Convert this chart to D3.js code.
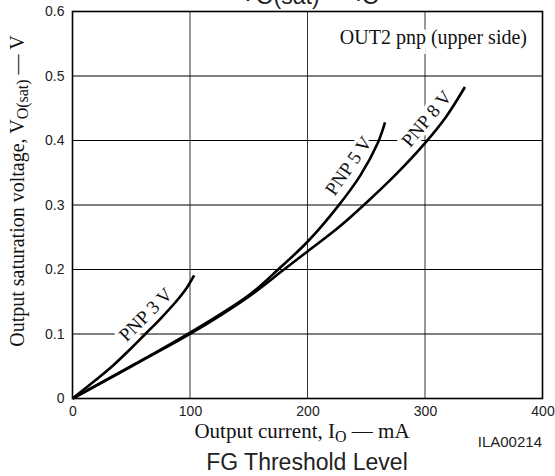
<!DOCTYPE html>
<html><head><meta charset="utf-8">
<script src="https://cdn.jsdelivr.net/npm/d3@7"></script>
<style>body{margin:0;background:#fff}svg{display:block}</style>
</head><body>
<svg id="c" width="555" height="476"></svg>
<script>
const xTicks = [0, 100, 200, 300, 400];
const yTicks = [0, 0.1, 0.2, 0.3, 0.4, 0.5, 0.6];
const yTickLabels = ["0", "0.1", "0.2", "0.3", "0.4", "0.5", "0.6"];
const pnp3I = [0, 20, 35, 50, 62, 75, 88, 97, 103.5];
const pnp3V = [0, 0.029, 0.052, 0.078, 0.1, 0.124, 0.15, 0.171, 0.191];
const pnp5I = [0, 50, 100, 150, 175, 200, 225, 245, 260, 266];
const pnp5V = [0, 0.05, 0.102, 0.16, 0.2, 0.243, 0.296, 0.346, 0.397, 0.428];
const pnp8I = [0, 50, 100, 150, 180, 200, 225, 248, 275, 300, 318, 334];
const pnp8V = [0, 0.05, 0.1, 0.158, 0.2, 0.228, 0.263, 0.3, 0.347, 0.396, 0.437, 0.483];

const svg = d3.select("#c");
const L = 72.5, R = 542.5, T = 11.5, B = 398.5;
const x = d3.scaleLinear().domain([0, 400]).range([L, R]);
const y = d3.scaleLinear().domain([0, 0.6]).range([B, T]);

// gridlines
svg.append("g").selectAll("line").data(xTicks.slice(1, -1)).join("line")
  .attr("x1", d => x(d)).attr("x2", d => x(d)).attr("y1", T).attr("y2", B)
  .attr("stroke", "#333").attr("stroke-width", 1);
svg.append("g").selectAll("line").data(yTicks.slice(1, -1)).join("line")
  .attr("x1", L).attr("x2", R).attr("y1", d => y(d)).attr("y2", d => y(d))
  .attr("stroke", "#000").attr("stroke-width", 1);

// axes (labels only)
const ax = svg.append("g").attr("transform", `translate(0,${B})`)
  .call(d3.axisBottom(x).tickValues(xTicks).tickSize(0).tickPadding(8).tickFormat(d3.format("d")));
ax.select(".domain").remove();
ax.selectAll("text").attr("font-family", "Liberation Sans, Arial, sans-serif").attr("font-size", 14).attr("fill", "#222");
const ay = svg.append("g").attr("transform", `translate(${L},0)`)
  .call(d3.axisLeft(y).tickValues(yTicks).tickSize(0).tickPadding(8).tickFormat((d, i) => yTickLabels[i]));
ay.select(".domain").remove();
ay.selectAll("text").attr("font-family", "Liberation Sans, Arial, sans-serif").attr("font-size", 14).attr("fill", "#222");

// curves
const line = d3.line().x(d => x(d[0])).y(d => y(d[1])).curve(d3.curveCatmullRom.alpha(0.5));
[[pnp3I, pnp3V], [pnp5I, pnp5V], [pnp8I, pnp8V]].forEach(([I, V]) => {
  svg.append("path").datum(I.map((v, i) => [v, V[i]])).attr("d", line)
    .attr("fill", "none").attr("stroke", "#000").attr("stroke-width", 2.6);
});

// labels with white halo
function lab(t, cx, cy, rot, size) {
  svg.append("text").attr("transform", `translate(${cx},${cy}) rotate(${rot})`)
    .attr("text-anchor", "middle").attr("dominant-baseline", "middle")
    .attr("font-family", "Liberation Serif, Times New Roman, serif").attr("font-size", size)
    .attr("fill", "#111").attr("stroke", "#fff").attr("stroke-width", 7).attr("stroke-linejoin", "round")
    .style("paint-order", "stroke").text(t);
}
lab("PNP 3 V", 147, 316, -45, 19);
lab("PNP 5 V", 350, 167, -55, 19);
lab("PNP 8 V", 428, 120, -50, 19);
// OUT2 label
svg.append("text").attr("x", 527).attr("y", 44).attr("text-anchor", "end")
  .attr("font-family", "Liberation Serif, Times New Roman, serif").attr("font-size", 20).attr("fill", "#111")
  .attr("stroke", "#fff").attr("stroke-width", 10).style("paint-order", "stroke")
  .text("OUT2 pnp (upper side)");

// frame
svg.append("rect").attr("x", L).attr("y", T).attr("width", R - L).attr("height", B - T)
  .attr("fill", "none").attr("stroke", "#000").attr("stroke-width", 1.6);

// axis titles
const xt = svg.append("text").attr("x", 302).attr("y", 438).attr("text-anchor", "middle")
  .attr("font-family", "Liberation Serif, Times New Roman, serif").attr("font-size", 21).attr("fill", "#111");
xt.append("tspan").text("Output current, I");
xt.append("tspan").attr("font-size", 16).attr("dy", 4).text("O");
xt.append("tspan").attr("dy", -4).text(" \u2014 mA");

const yt = svg.append("text").attr("transform", `translate(24,${191}) rotate(-90)`).attr("text-anchor", "middle")
  .attr("font-family", "Liberation Serif, Times New Roman, serif").attr("font-size", 20).attr("fill", "#111");
yt.append("tspan").text("Output saturation voltage, V");
yt.append("tspan").attr("font-size", 16).attr("dy", 4).text("O(sat)");
yt.append("tspan").attr("dy", -4).text(" \u2014 V");

// title (cut off at top, as in the reference)
const tt = svg.append("text").attr("x", 310).attr("y", 1).attr("text-anchor", "middle")
  .attr("font-family", "Liberation Sans, Arial, sans-serif").attr("font-size", 23).attr("fill", "#222");
tt.append("tspan").text("V");
tt.append("tspan").attr("dy", 3).text("O(sat)");
tt.append("tspan").attr("dy", -3).text(" \u2014 I");
tt.append("tspan").attr("dy", 3).text("O");

svg.append("text").attr("x", 542).attr("y", 447).attr("text-anchor", "end")
  .attr("font-family", "Liberation Sans, Arial, sans-serif").attr("font-size", 15).attr("fill", "#222")
  .text("ILA00214");
svg.append("text").attr("x", 307).attr("y", 470).attr("text-anchor", "middle")
  .attr("font-family", "Liberation Sans, Arial, sans-serif").attr("font-size", 23).attr("fill", "#222")
  .text("FG Threshold Level");
</script>
</body></html>
